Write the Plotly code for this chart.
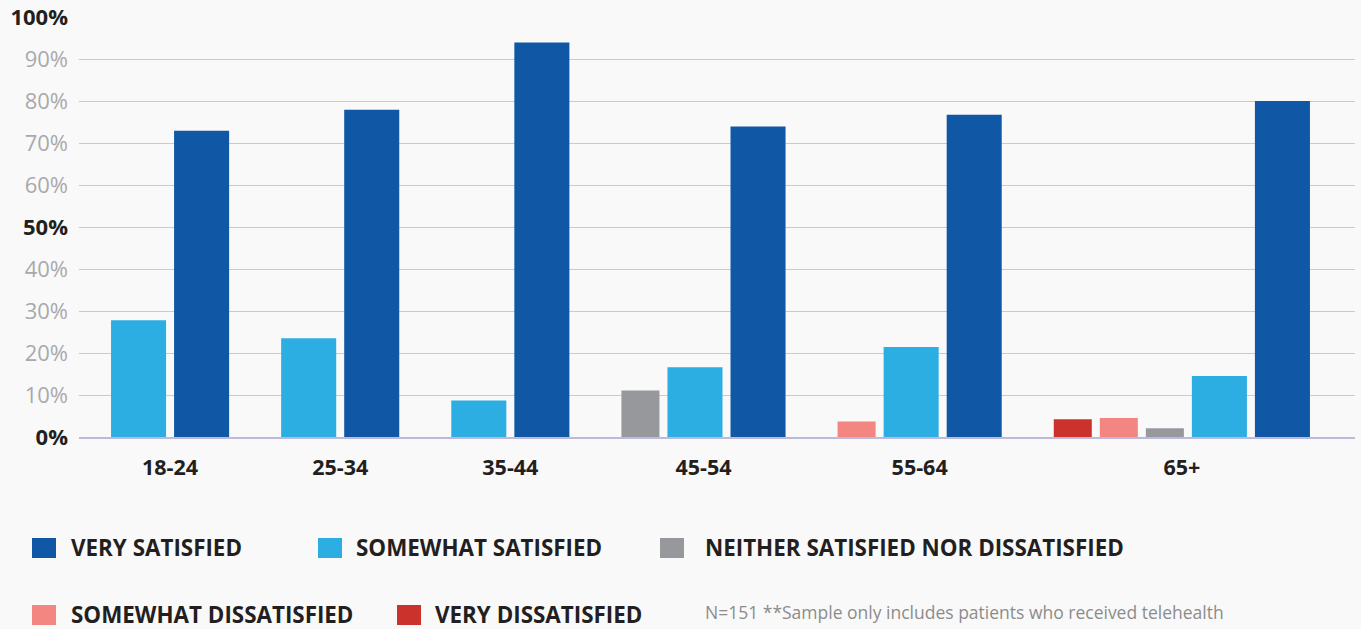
import plotly.graph_objects as go

# ---------------- data ----------------
categories = ["18-24", "25-34", "35-44", "45-54", "55-64", "65+"]
very_satisfied = [72.9, 77.9, 93.9, 73.9, 76.7, 80.0]
somewhat_satisfied = [27.8, 23.5, 8.7, 16.6, 21.4, 14.5]
neither = [0, 0, 0, 11.1, 0, 2.1]
somewhat_dissatisfied = [0, 0, 0, 0, 3.7, 4.5]
very_dissatisfied = [0, 0, 0, 0, 0, 4.2]

y_tickvals = [0, 10, 20, 30, 40, 50, 60, 70, 80, 90, 100]
y_bold_ticks = [0, 50, 100]
footnote = "N=151 **Sample only includes patients who received telehealth"

# ---------------- style ----------------
W, H = 1361, 629
ML, MR, MT, MB = 79, 6, 17, 192
PW, PH = W - ML - MR, H - MT - MB
BG = "#f9f9f9"
FONT = "Open Sans"
DARK = "#231f20"
GRAY_TXT = "#a9a9ac"

series = [
    ("VERY DISSATISFIED", very_dissatisfied, "#cb322b", 38),
    ("SOMEWHAT DISSATISFIED", somewhat_dissatisfied, "#f48682", 38),
    ("NEITHER SATISFIED NOR DISSATISFIED", neither, "#97989c", 38),
    ("SOMEWHAT SATISFIED", somewhat_satisfied, "#2daee2", 55),
    ("VERY SATISFIED", very_satisfied, "#1058a5", 55),
]
INNER_GAP = 8
GROUP_GAP = 52
PAD_L, PAD_R = 32, 45

# ---------------- compute packed group layout (zero bars omitted) ----------------
pos = {name: ([], [], []) for name, *_ in series}
group_centers = []
cursor = 0.0
for g in range(len(categories)):
    start = cursor
    for name, vals, color, w in series:
        v = vals[g]
        if v > 0:
            xs, ys, ws = pos[name]
            xs.append(cursor + w / 2)
            ys.append(v)
            ws.append(w)
            cursor += w + INNER_GAP
    end = cursor - INNER_GAP
    group_centers.append((start + end) / 2)
    cursor = end + GROUP_GAP
x_end = cursor - GROUP_GAP

fig = go.Figure()
for name, vals, color, w in series:
    xs, ys, ws = pos[name]
    fig.add_trace(go.Bar(x=xs, y=ys, width=ws, name=name, marker=dict(color=color, line=dict(width=0)),
                         showlegend=False))

y_ticktext = [f"<b>{v}%</b>" if v in y_bold_ticks else f"<span style='color:{GRAY_TXT}'>{v}%</span>"
              for v in y_tickvals]

fig.update_layout(
    width=W, height=H,
    margin=dict(l=ML, r=MR, t=MT, b=MB),
    paper_bgcolor=BG, plot_bgcolor=BG,
    barmode="overlay",
    font=dict(family=FONT, color=DARK),
    xaxis=dict(range=[-PAD_L, x_end + PAD_R], tickvals=group_centers,
               ticktext=[f"<b>{c}</b>" for c in categories],
               tickfont=dict(size=21.5, color=DARK, family=FONT),
               showgrid=False, zeroline=False, showline=True, linecolor="#bdb9da", linewidth=2,
               ticks="", ticklabelstandoff=10, fixedrange=True, automargin=False),
    yaxis=dict(range=[0, 100], tickvals=y_tickvals, ticktext=y_ticktext,
               tickfont=dict(size=22, color=DARK, family=FONT),
               showgrid=True, gridcolor="#cbc7e3", gridwidth=1, zeroline=False, showline=False,
               ticks="", ticklabelstandoff=10, fixedrange=True, automargin=False),
)

def px_x(px):
    return (px - ML) / PW

def px_y(py):
    return (H - MB - py) / PH

# ---------------- manual legend (square x, square top y, text x) ----------------
legend_items = [
    ("VERY SATISFIED", "#1058a5", 32, 538, 72),
    ("SOMEWHAT SATISFIED", "#2daee2", 318, 538, 357),
    ("NEITHER SATISFIED NOR DISSATISFIED", "#97989c", 660, 538, 706),
    ("SOMEWHAT DISSATISFIED", "#f48682", 32, 605, 72),
    ("VERY DISSATISFIED", "#cb322b", 397, 605, 436),
]
SQ_W, SQ_H = 24, 20
for label, color, sx, sy, tx in legend_items:
    fig.add_shape(type="rect", xref="paper", yref="paper",
                  x0=px_x(sx), x1=px_x(sx + SQ_W), y0=px_y(sy + SQ_H), y1=px_y(sy),
                  fillcolor=color, line=dict(width=0), layer="above")
    fig.add_annotation(text=f"<b>{label}</b>", xref="paper", yref="paper",
                       x=px_x(tx - 2), y=px_y(sy + SQ_H / 2 - 1),
                       xanchor="left", yanchor="middle", showarrow=False, borderpad=0,
                       font=dict(size=22.4, color=DARK, family=FONT))

fig.add_annotation(text=footnote, xref="paper", yref="paper",
                   x=px_x(704), y=px_y(612), xanchor="left", yanchor="middle", showarrow=False,
                   borderpad=0, font=dict(size=17.5, color="#8c8c8c", family=FONT))

fig.write_html("out.html")
